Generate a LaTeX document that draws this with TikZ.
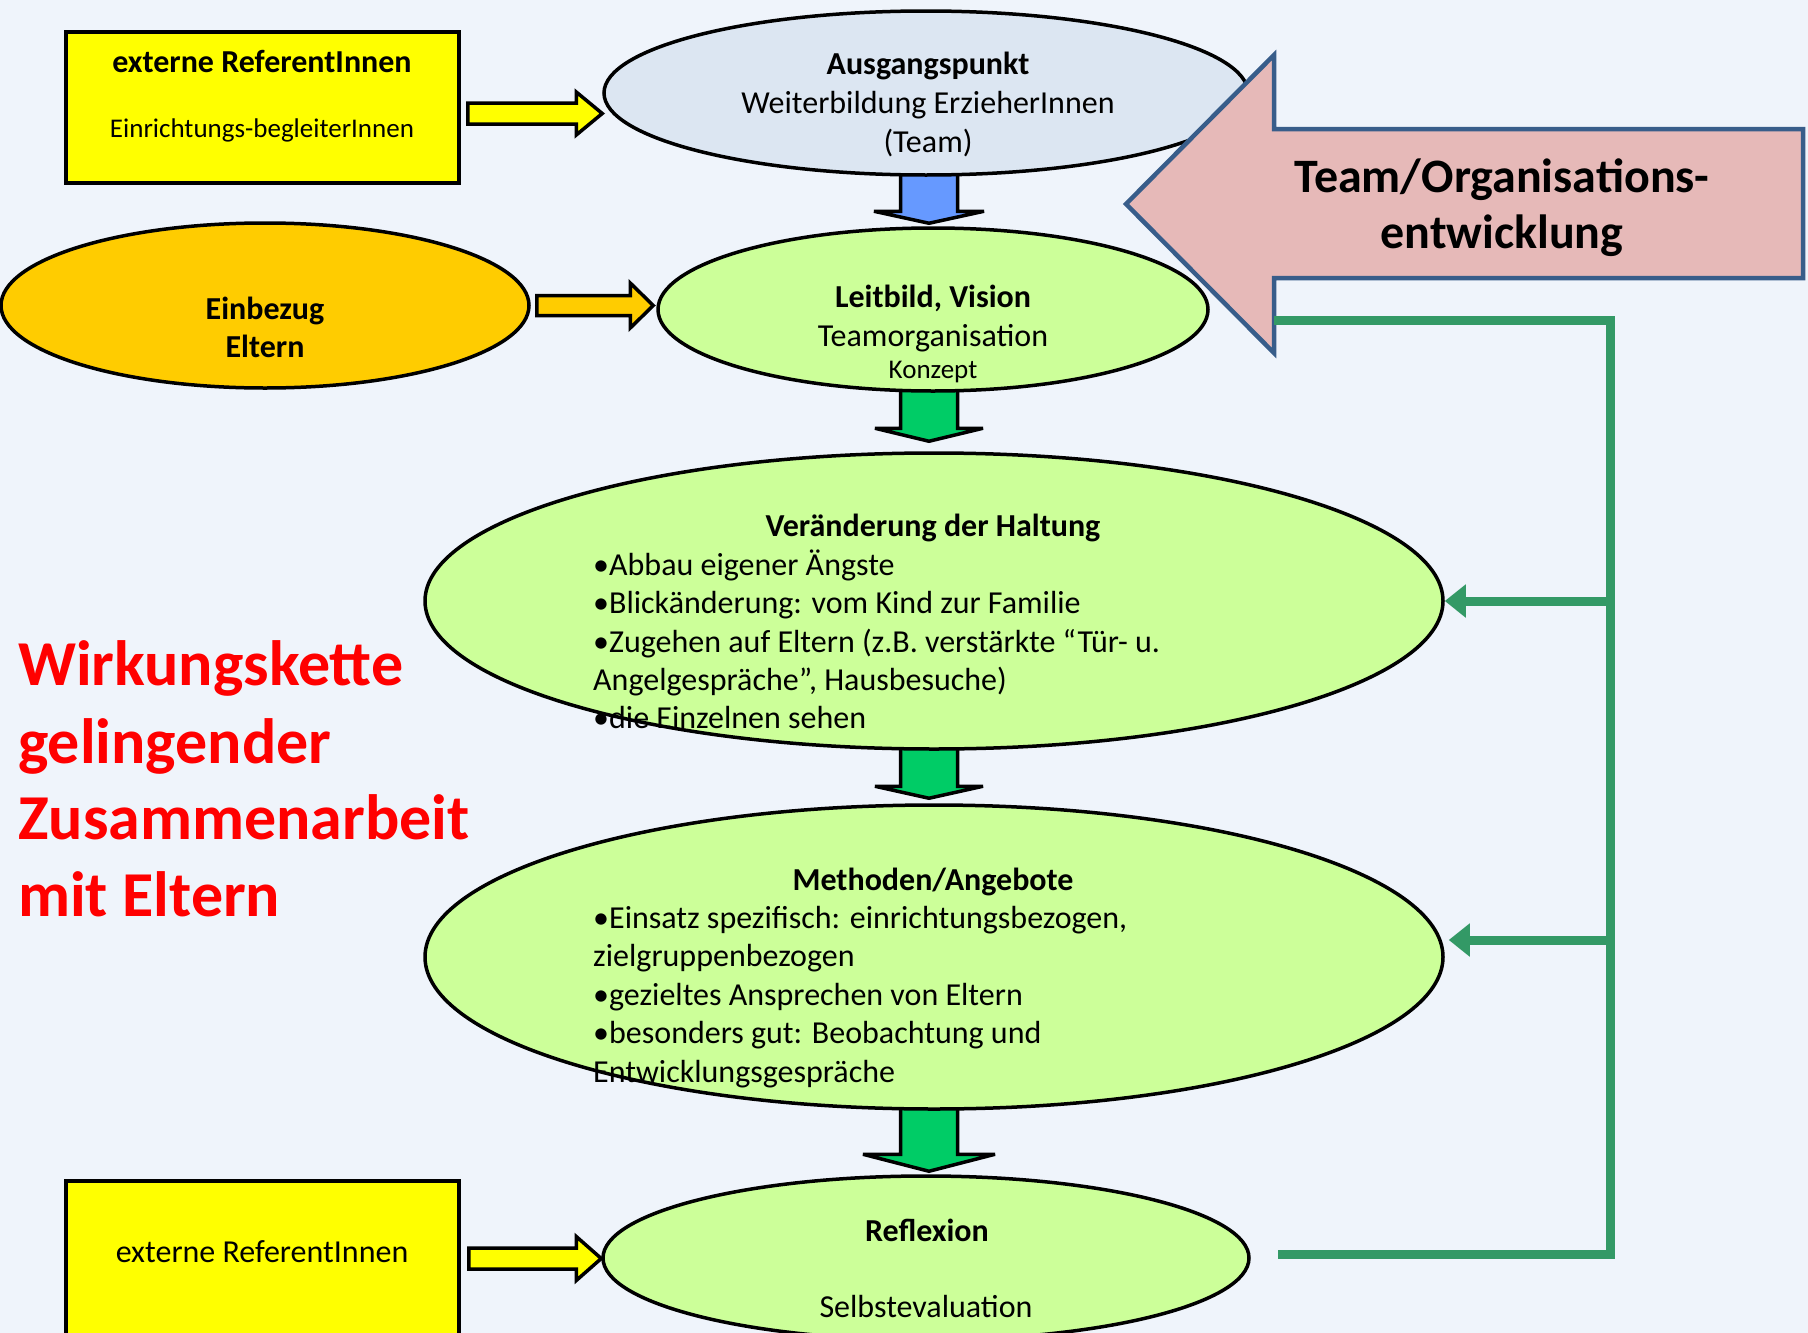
\documentclass[tikz,border=0pt]{standalone}
\usepackage{fontspec}
\setmainfont{Carlito}
\usetikzlibrary{calc,shapes.geometric,arrows.meta}
\pgfdeclarelayer{back}
\pgfsetlayers{back,main}
\definecolor{bgc}{RGB}{239,244,251}
\definecolor{ausc}{RGB}{220,230,242}
\definecolor{grc}{RGB}{204,255,153}
\definecolor{orc}{RGB}{255,204,0}
\definecolor{yec}{RGB}{255,255,0}
\definecolor{blc}{RGB}{102,153,255}
\definecolor{gac}{RGB}{0,204,102}
\definecolor{pkc}{RGB}{230,185,184}
\definecolor{pkb}{RGB}{56,93,138}
\definecolor{fbc}{RGB}{51,153,102}
\definecolor{redc}{RGB}{255,0,0}
\newcommand\myfR{\fontsize{32pt}{38.4pt}\selectfont}
\newcommand\myfB{\fontsize{32pt}{38.4pt}\selectfont\bfseries}
\newcommand\myfS{\fontsize{27pt}{33pt}\selectfont}
\newcommand\myfP{\fontsize{48pt}{56pt}\selectfont\bfseries}
\newcommand\myfT{\fontsize{64pt}{77pt}\selectfont\bfseries}
\newcommand\myvarrow[5]{%
  \draw[blk,fill=#3] let \p1=(#1), \p2=(#2), \p3=(axis) in
  (\x3-28.5pt,\y1) -- (\x3+28.5pt,\y1) -- (\x3+28.5pt,\y2+#5) -- (\x3+#4,\y2+#5)
  -- (\x3,\y2) -- (\x3-#4,\y2+#5) -- (\x3-28.5pt,\y2+#5) -- cycle;}
\newcommand\myharrow[6]{%
  \draw[blk,fill=#3] let \p1=(#1), \p2=(#2) in
  (\x1,\y1+#4) -- (\x2-#6,\y1+#4) -- (\x2-#6,\y1+#5) -- (\x2,\y1)
  -- (\x2-#6,\y1-#5) -- (\x2-#6,\y1-#4) -- (\x1,\y1-#4) -- cycle;}
\begin{document}
\begin{tikzpicture}[x=1pt,y=-1pt,
  ell/.style={ellipse, draw=black, line width=3.5pt, inner sep=0pt},
  box/.style={rectangle, draw=black, line width=3.5pt, fill=yec, inner sep=0pt},
  blk/.style={draw=black, line width=3.5pt, line join=miter, miter limit=3},
  lbl/.style={inner sep=0pt, anchor=base},
  lbll/.style={inner sep=0pt, anchor=base west},
  fb/.style={draw=fbc, line width=9pt, line join=miter}]
\useasboundingbox (0,0) rectangle (1808,1333);
\begin{pgfonlayer}{back}
\fill[bgc] (0,0) rectangle (1808,1333);
\end{pgfonlayer}

% shapes
\node[box, minimum width=393pt, minimum height=151pt] (box1) at (262.5,107.5) {};
\node[box, minimum width=393pt, minimum height=164pt] (box2) at (262.5,1263) {};
\node[ell, fill=ausc, minimum width=644pt, minimum height=164pt] (aus) at (926,93) {};
\node[ell, fill=orc, minimum width=528pt, minimum height=165pt] (einb) at (265,305.5) {};
\node[ell, fill=grc, minimum width=550pt, minimum height=163pt] (leit) at (933,309.5) {};
\node[ell, fill=grc, minimum width=1018pt, minimum height=296pt] (ver) at (934,601) {};
\node[ell, fill=grc, minimum width=1018pt, minimum height=304pt] (meth) at (934,957) {};
\node[ell, fill=grc, minimum width=646pt, minimum height=164pt] (refl) at (926,1258) {};

\coordinate (axis) at (929,0);
\coordinate (a1s) at ($(box1.east)+(7,6)$);
\coordinate (a1e) at (a1s -| aus.west);
\coordinate (a2s) at ($(einb.east)+(6,0)$);
\coordinate (a2e) at ($(a2s -| leit.west)+(-3,0)$);
\coordinate (a3s) at ($(box2.east)+(8,-4.5)$);
\coordinate (a3e) at (a3s -| refl.west);

% block arrows (behind shapes)
\begin{pgfonlayer}{back}
\myvarrow{$(aus.south)+(0,-4)$}{$(leit.north)+(0,-3)$}{blc}{55pt}{12pt}
\myvarrow{$(leit.south)+(0,-4)$}{$(ver.north)+(0,-10)$}{gac}{54pt}{13pt}
\myvarrow{$(ver.south)+(0,-4)$}{$(meth.north)+(0,-5)$}{gac}{54pt}{12pt}
\myvarrow{$(meth.south)+(0,-4)$}{$(refl.north)+(0,-3)$}{gac}{66pt}{17pt}
\myharrow{a1s}{a1e}{yec}{10.5pt}{21.5pt}{26pt}
\myharrow{a2s}{a2e}{orc}{10pt}{22.5pt}{23pt}
\myharrow{a3s}{a3e}{yec}{10.5pt}{22pt}{25pt}
\end{pgfonlayer}

% big pink arrow
\draw[fill=pkc, draw=pkb, line width=4.5pt, line join=miter]
  (1126,204) -- (1274,55) -- (1274,129) -- (1803,129) -- (1803,278)
  -- (1274,278) -- (1274,353) -- cycle;

% texts
\node[lbl, font=\myfB] (t11) at (262,72.5) {externe ReferentInnen};
\node[lbl, font=\myfS] (t12) at (262,137) {Einrichtungs-begleiterInnen};
\node[lbl, font=\myfB] (ta1) at (928,74.5) {Ausgangspunkt};
\node[lbl, font=\myfR] (ta2) at (928,113.5) {Weiterbildung ErzieherInnen};
\node[lbl, font=\myfR] (ta3) at (928,152.5) {(Team)};
\node[lbl, font=\myfB] (te1) at (265,319.5) {Einbezug};
\node[lbl, font=\myfB] (te2) at (265,357.5) {Eltern};
\node[lbl, font=\myfB] (tl1) at (933,307.5) {Leitbild, Vision};
\node[lbl, font=\myfR] (tl2) at (933,346.5) {Teamorganisation};
\node[lbl, font=\myfS] (tl3) at (933,378) {Konzept};
\node[lbl, font=\myfP] (tp1) at (1502,192) {Team/Organisations-};
\node[lbl, font=\myfP] (tp2) at (1502,248) {entwicklung};
\node[lbll, font=\myfT, text=redc] (tr1) at (18,685) {Wirkungskette};
\node[lbll, font=\myfT, text=redc] (tr2) at (18,763) {gelingender};
\node[lbll, font=\myfT, text=redc] (tr3) at (18,839) {Zusammenarbeit};
\node[lbll, font=\myfT, text=redc] (tr4) at (18,916) {mit Eltern};
\node[lbl, font=\myfB] (tv0) at (933,536.5) {Veränderung der Haltung};
\node[lbll, font=\myfR] (tv1) at (593,575.5) {•Abbau eigener Ängste};
\node[lbll, font=\myfR] (tv2) at (593,613.5) {•Blickänderung: vom Kind zur Familie};
\node[lbll, font=\myfR] (tv3) at (593,652.5) {•Zugehen auf Eltern (z.B. verstärkte “Tür- u.};
\node[lbll, font=\myfR] (tv4) at (593,690.5) {Angelgespräche”, Hausbesuche)};
\node[lbll, font=\myfR] (tv5) at (593,728.5) {•die Einzelnen sehen};
\node[lbl, font=\myfB] (tm0) at (933,890.5) {Methoden/Angebote};
\node[lbll, font=\myfR] (tm1) at (593,928.5) {•Einsatz spezifisch: einrichtungsbezogen,};
\node[lbll, font=\myfR] (tm2) at (593,966.5) {zielgruppenbezogen};
\node[lbll, font=\myfR] (tm3) at (593,1005.5) {•gezieltes Ansprechen von Eltern};
\node[lbll, font=\myfR] (tm4) at (593,1043.5) {•besonders gut: Beobachtung und};
\node[lbll, font=\myfR] (tm5) at (593,1082.5) {Entwicklungsgespräche};
\node[lbl, font=\myfB] (tf1) at (927,1241.5) {Reflexion};
\node[lbl, font=\myfR] (tf2) at (926,1317.5) {Selbstevaluation};
\node[lbl, font=\myfR] (tb2) at (262,1262.5) {externe ReferentInnen};

% feedback connectors
\coordinate (fbtop) at (1274,320);
\coordinate (fbbot) at ($(refl.east)+(27,-4)$);
\coordinate (fbx) at (1610,0);
\coordinate (methin) at ($(meth.east)+(4,-17)$);
\draw[fb] (fbtop) -- (fbtop -| fbx) -- (fbbot -| fbx) -- (fbbot);
\draw[fb, -{Triangle[length=21pt,width=32pt]}] (ver.east -| fbx) -- (ver.east);
\draw[fb, -{Triangle[length=21pt,width=32pt]}] (methin -| fbx) -- (methin);
\end{tikzpicture}
\end{document}
